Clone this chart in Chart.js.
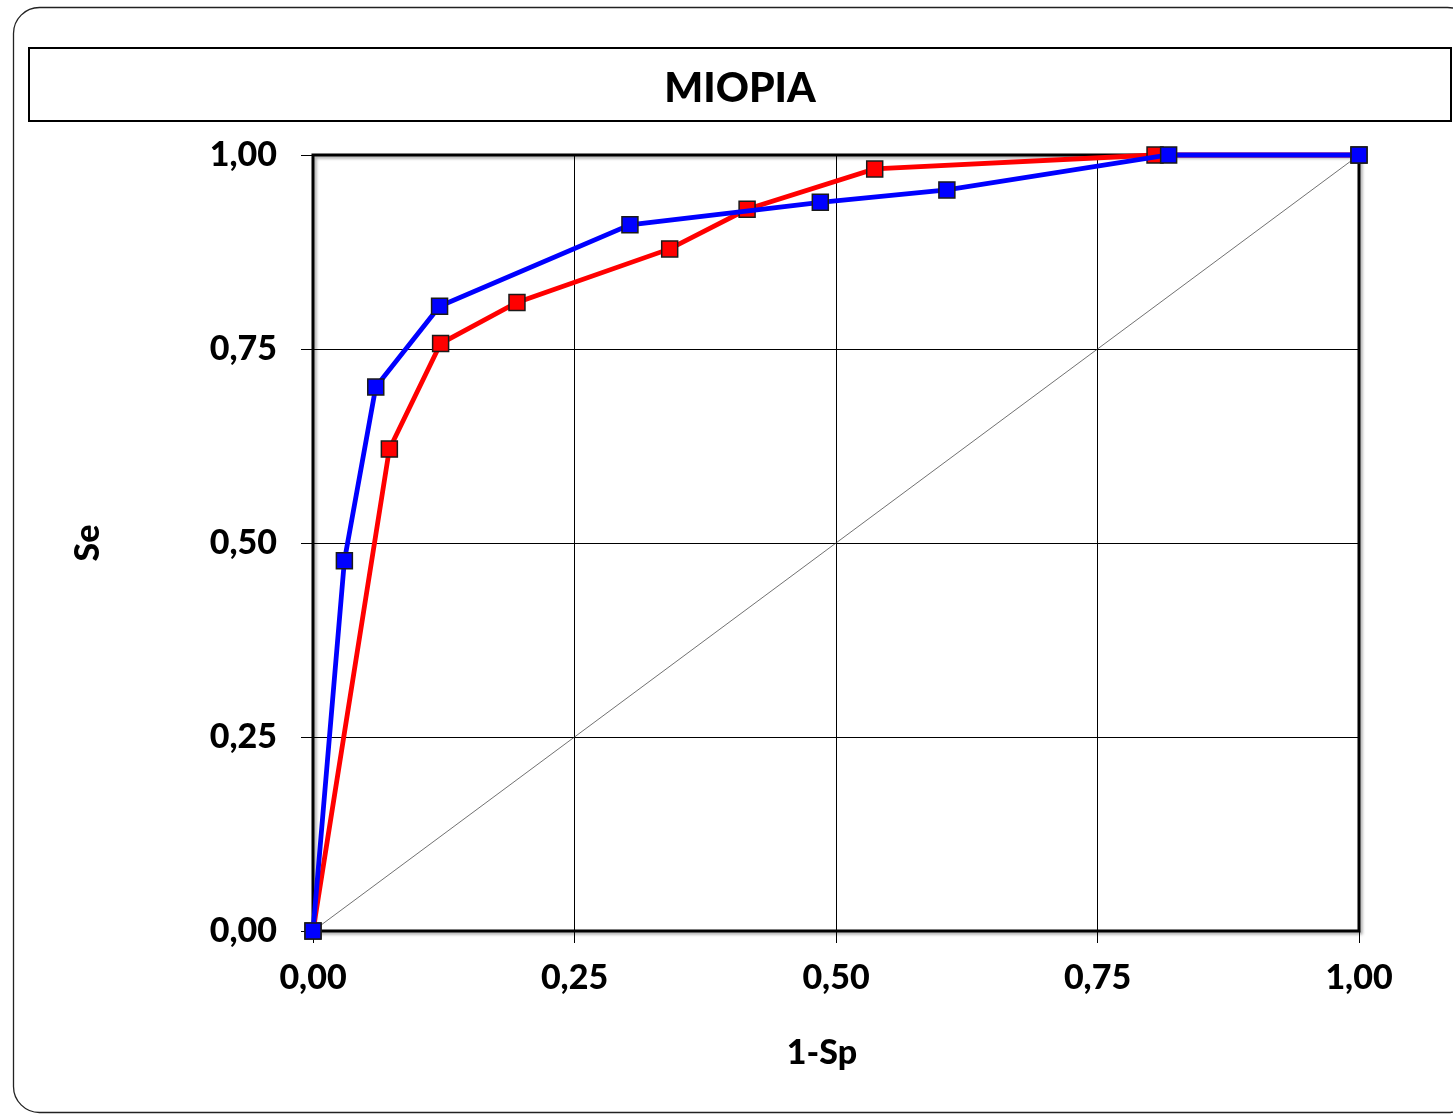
<!DOCTYPE html>
<html lang="es">
<head>
<meta charset="UTF-8">
<title>MIOPIA</title>
<script src="https://cdn.jsdelivr.net/npm/chart.js@4"></script>
<style>
  html, body { margin: 0; padding: 0; background: #fff; }
  canvas { display: block; }
</style>
</head>
<body>
<canvas id="rocChart" width="1453" height="1114"></canvas>
<script>
// ROC data (x = 1-Sp, y = Se)
const redX  = [0, 0.073, 0.122, 0.195, 0.341, 0.415, 0.537, 0.805, 1];
const redY  = [0, 0.621, 0.757, 0.810, 0.879, 0.930, 0.982, 1, 1];
const blueX = [0, 0.030, 0.060, 0.121, 0.303, 0.485, 0.606, 0.818, 1];
const blueY = [0, 0.477, 0.701, 0.805, 0.910, 0.939, 0.955, 1, 1];
const refX  = [0, 1];
const refY  = [0, 1];
const tickValues = [0, 0.25, 0.5, 0.75, 1];
const chartTitle = 'MIOPIA';
const xTitle = '1-Sp';
const yTitle = 'Se';

function toPoints(xs, ys) {
  return xs.map((x, i) => ({ x: x, y: ys[i] }));
}

function fmt(v) {
  return v.toFixed(2).replace('.', ',');
}

const FONT = 'Lato, "Open Sans", sans-serif';
Chart.defaults.font.family = FONT;
Chart.defaults.color = '#000';

// frame, title box, titles and plot border
const framePlugin = {
  id: 'frame',
  beforeDraw(chart) {
    const ctx = chart.ctx;
    ctx.save();
    ctx.fillStyle = '#fff';
    ctx.fillRect(0, 0, chart.width, chart.height);
    ctx.strokeStyle = '#222';
    ctx.lineWidth = 1.3;
    ctx.beginPath();
    ctx.roundRect(13.5, 7.5, 1460, 1105, 26);
    ctx.stroke();
    ctx.strokeStyle = '#000';
    ctx.lineWidth = 2;
    ctx.strokeRect(29, 48, 1422, 73);

    ctx.fillStyle = '#000';
    ctx.textAlign = 'center';
    ctx.textBaseline = 'middle';
    ctx.font = '900 41px ' + FONT;
    ctx.fillText(chartTitle, 740, 89);
    ctx.font = '900 34px ' + FONT;
    ctx.fillText(xTitle, 822, 1053);
    ctx.restore();
  },
  beforeDatasetsDraw(chart) {
    const ctx = chart.ctx;
    const a = chart.chartArea;
    ctx.save();
    ctx.shadowColor = 'rgba(0,0,0,0.35)';
    ctx.shadowBlur = 3;
    ctx.shadowOffsetX = 2;
    ctx.shadowOffsetY = 2;
    ctx.strokeStyle = '#000';
    ctx.lineWidth = 3;
    ctx.strokeRect(a.left, a.top, a.right - a.left, a.bottom - a.top);
    ctx.restore();
  }
};

const ctx = document.getElementById('rocChart').getContext('2d');
const rocChart = new Chart(ctx, {
  type: 'scatter',
  data: {
    datasets: [
      {
        label: 'blue',
        data: toPoints(blueX, blueY),
        showLine: true,
        borderColor: '#0000ff',
        backgroundColor: '#0000ff',
        borderWidth: 4.8,
        pointStyle: 'rect',
        pointRadius: 11.3,
        pointBorderColor: '#1a1a1a',
        pointBorderWidth: 1.5,
        clip: false,
        order: 0
      },
      {
        label: 'red',
        data: toPoints(redX, redY),
        showLine: true,
        borderColor: '#ff0000',
        backgroundColor: '#ff0000',
        borderWidth: 4.8,
        pointStyle: 'rect',
        pointRadius: 11.3,
        pointBorderColor: '#1a1a1a',
        pointBorderWidth: 1.5,
        clip: false,
        order: 1
      },
      {
        label: 'ref',
        data: toPoints(refX, refY),
        showLine: true,
        borderColor: '#333',
        borderWidth: 0.7,
        pointRadius: 0,
        order: 2
      }
    ]
  },
  options: {
    responsive: false,
    animation: false,
    devicePixelRatio: 1,
    layout: {
      autoPadding: false,
      padding: { left: 0, right: 94, top: 155, bottom: 0 }
    },
    plugins: {
      legend: { display: false },
      tooltip: { enabled: false },
      title: { display: false }
    },
    scales: {
      x: {
        type: 'linear',
        position: 'bottom',
        min: 0,
        max: 1,
        afterBuildTicks(scale) {
          scale.ticks = tickValues.map(v => ({ value: v }));
        },
        afterFit(scale) { scale.height = 183; },
        ticks: {
          callback: v => fmt(v),
          color: '#000',
          font: { size: 34, weight: '900' },
          padding: 15,
          maxRotation: 0
        },
        grid: { color: '#000', lineWidth: 1, tickLength: 12, tickColor: '#000' },
        border: { display: false },
        title: { display: false }
      },
      y: {
        type: 'linear',
        min: 0,
        max: 1,
        afterBuildTicks(scale) {
          scale.ticks = tickValues.map(v => ({ value: v }));
        },
        afterFit(scale) { scale.width = 313; },
        ticks: {
          callback: v => fmt(v),
          color: '#000',
          font: { size: 34, weight: '900' },
          padding: 24
        },
        grid: { color: '#000', lineWidth: 1, tickLength: 12, tickColor: '#000' },
        border: { display: false },
        title: {
          display: true,
          text: yTitle,
          color: '#000',
          font: { size: 34, weight: '900' },
          padding: { top: 68, bottom: 0 }
        }
      }
    }
  },
  plugins: [framePlugin]
});
</script>
</body>
</html>
